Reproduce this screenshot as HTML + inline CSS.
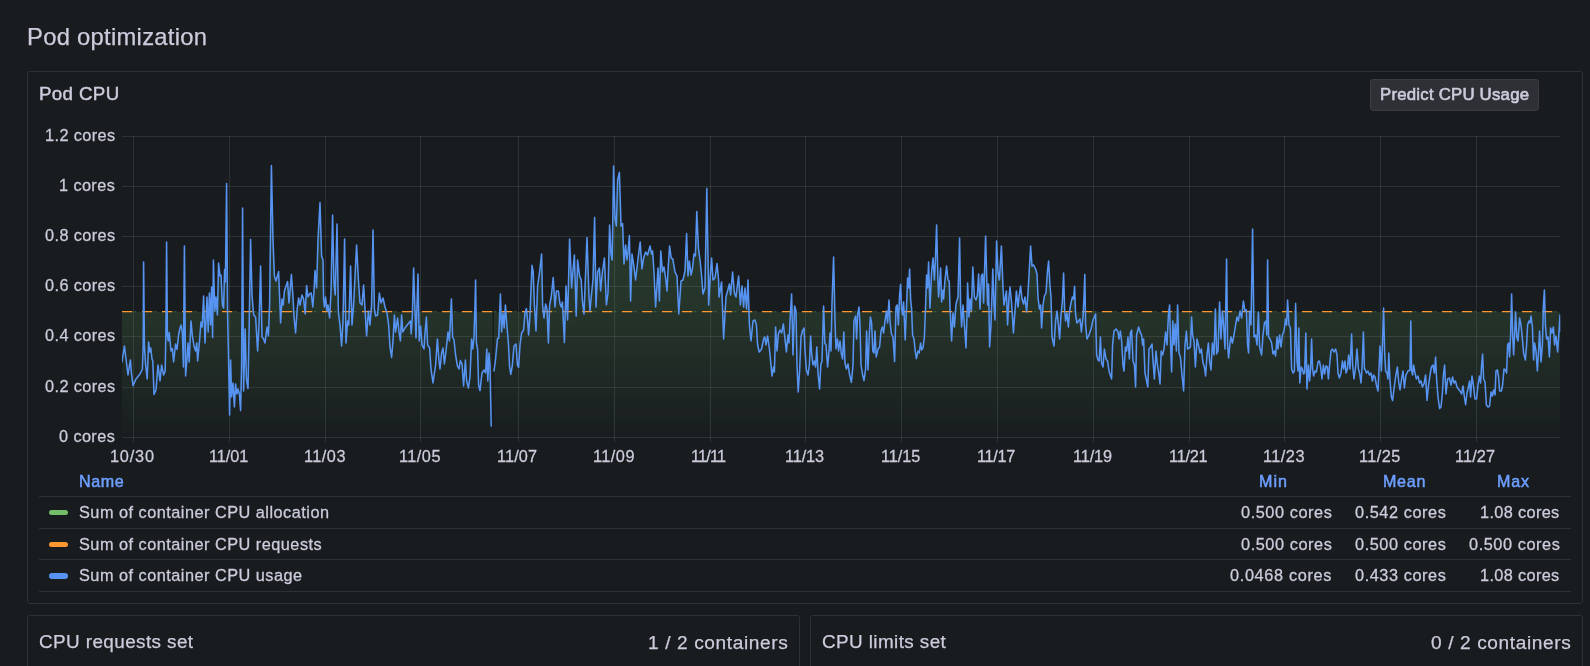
<!DOCTYPE html><html><head><meta charset="utf-8"><title>Pod optimization</title>
<style>
html,body{margin:0;padding:0;background:#181c1f;}
body{width:1590px;height:666px;position:relative;overflow:hidden;font-family:"Liberation Sans",sans-serif;color:#ccccdc;}
.t{position:absolute;white-space:nowrap;line-height:1;will-change:transform;}
.panel{position:absolute;box-sizing:border-box;border:1px solid #2e3136;border-radius:3px;background:#181c1f;}
.sep{position:absolute;height:1px;background:#2e3136;left:39px;width:1532px;}
.sw{position:absolute;left:49px;width:19px;height:5.5px;border-radius:3px;}
.ax{font-size:16.3px;letter-spacing:0.4px;-webkit-text-stroke:0.26px #ccccdc;}
.lg{font-size:16.3px;letter-spacing:0.44px;-webkit-text-stroke:0.28px #ccccdc;}
.hd{font-size:16.1px;letter-spacing:0.55px;color:#6e9fff;-webkit-text-stroke:0.5px #6e9fff;}

</style></head><body>
<div class="t" id="title" style="left:26.6px;top:24.95px;font-size:23.8px;letter-spacing:0.27px;-webkit-text-stroke:0.25px #ccccdc;">Pod optimization</div>
<div class="panel" style="left:27px;top:71px;width:1556px;height:533px;"></div>
<div class="t" id="ptitle" style="left:38.6px;top:84.57px;font-size:18.7px;letter-spacing:0.38px;-webkit-text-stroke:0.45px #ccccdc;">Pod CPU</div>
<div style="position:absolute;left:1370px;top:79.2px;width:169px;height:31.6px;background:#2e3036;border-radius:3px;box-sizing:border-box;border:1px solid #3a3c43;"></div>
<div class="t" id="btn" style="left:1380px;top:86.88px;font-size:16.8px;letter-spacing:0.22px;-webkit-text-stroke:0.6px #ccccdc;">Predict CPU Usage</div>
<div class="t ax yl" style="right:1474.7px;top:428.0px;">0 cores</div>
<div class="t ax yl" style="right:1474.7px;top:378.0px;">0.2 cores</div>
<div class="t ax yl" style="right:1474.7px;top:327.0px;">0.4 cores</div>
<div class="t ax yl" style="right:1474.7px;top:277.0px;">0.6 cores</div>
<div class="t ax yl" style="right:1474.7px;top:226.9px;">0.8 cores</div>
<div class="t ax yl" style="right:1474.7px;top:176.9px;">1 cores</div>
<div class="t ax yl" style="right:1474.7px;top:126.9px;">1.2 cores</div>
<div class="t ax xl" style="left:109.95px;top:448.0px;letter-spacing:0.81px;">10/30</div>
<div class="t ax xl" style="left:208.70px;top:448.0px;letter-spacing:-0.07px;">11/01</div>
<div class="t ax xl" style="left:303.60px;top:448.0px;letter-spacing:0.48px;">11/03</div>
<div class="t ax xl" style="left:398.60px;top:448.0px;letter-spacing:0.48px;">11/05</div>
<div class="t ax xl" style="left:497.30px;top:448.0px;letter-spacing:0.13px;">11/07</div>
<div class="t ax xl" style="left:592.60px;top:448.0px;letter-spacing:0.48px;">11/09</div>
<div class="t ax xl" style="left:691.20px;top:448.0px;letter-spacing:-0.82px;">11/11</div>
<div class="t ax xl" style="left:784.80px;top:448.0px;letter-spacing:-0.12px;">11/13</div>
<div class="t ax xl" style="left:880.70px;top:448.0px;letter-spacing:-0.07px;">11/15</div>
<div class="t ax xl" style="left:977.20px;top:448.0px;letter-spacing:-0.32px;">11/17</div>
<div class="t ax xl" style="left:1072.80px;top:448.0px;letter-spacing:-0.12px;">11/19</div>
<div class="t ax xl" style="left:1169.00px;top:448.0px;letter-spacing:-0.22px;">11/21</div>
<div class="t ax xl" style="left:1262.60px;top:448.0px;letter-spacing:0.48px;">11/23</div>
<div class="t ax xl" style="left:1358.70px;top:448.0px;letter-spacing:0.43px;">11/25</div>
<div class="t ax xl" style="left:1455.30px;top:448.0px;letter-spacing:0.13px;">11/27</div>
<svg style="position:absolute;left:0;top:0;" width="1590" height="666" viewBox="0 0 1590 666">
<defs><linearGradient id="gf" gradientUnits="userSpaceOnUse" x1="0" y1="166.4" x2="0" y2="437.2"><stop offset="0" stop-color="#73bf69" stop-opacity="0.20"/><stop offset="0.54" stop-color="#73bf69" stop-opacity="0.15"/><stop offset="1" stop-color="#73bf69" stop-opacity="0.01"/></linearGradient>
<clipPath id="cp"><rect x="122.0" y="130" width="1438.3" height="307.7"/></clipPath></defs>
<rect x="122.0" y="437" width="1438.3" height="1" fill="rgba(240,250,255,0.10)"/>
<rect x="122.0" y="387" width="1438.3" height="1" fill="rgba(240,250,255,0.10)"/>
<rect x="122.0" y="336" width="1438.3" height="1" fill="rgba(240,250,255,0.10)"/>
<rect x="122.0" y="286" width="1438.3" height="1" fill="rgba(240,250,255,0.10)"/>
<rect x="122.0" y="236" width="1438.3" height="1" fill="rgba(240,250,255,0.10)"/>
<rect x="122.0" y="186" width="1438.3" height="1" fill="rgba(240,250,255,0.10)"/>
<rect x="122.0" y="136" width="1438.3" height="1" fill="rgba(240,250,255,0.10)"/>
<rect x="133" y="136" width="1" height="306.4" fill="rgba(240,250,255,0.10)"/>
<rect x="229" y="136" width="1" height="306.4" fill="rgba(240,250,255,0.10)"/>
<rect x="325" y="136" width="1" height="306.4" fill="rgba(240,250,255,0.10)"/>
<rect x="420" y="136" width="1" height="306.4" fill="rgba(240,250,255,0.10)"/>
<rect x="518" y="136" width="1" height="306.4" fill="rgba(240,250,255,0.10)"/>
<rect x="614" y="136" width="1" height="306.4" fill="rgba(240,250,255,0.10)"/>
<rect x="710" y="136" width="1" height="306.4" fill="rgba(240,250,255,0.10)"/>
<rect x="805" y="136" width="1" height="306.4" fill="rgba(240,250,255,0.10)"/>
<rect x="901" y="136" width="1" height="306.4" fill="rgba(240,250,255,0.10)"/>
<rect x="997" y="136" width="1" height="306.4" fill="rgba(240,250,255,0.10)"/>
<rect x="1093" y="136" width="1" height="306.4" fill="rgba(240,250,255,0.10)"/>
<rect x="1189" y="136" width="1" height="306.4" fill="rgba(240,250,255,0.10)"/>
<rect x="1284" y="136" width="1" height="306.4" fill="rgba(240,250,255,0.10)"/>
<rect x="1380" y="136" width="1" height="306.4" fill="rgba(240,250,255,0.10)"/>
<rect x="1476" y="136" width="1" height="306.4" fill="rgba(240,250,255,0.10)"/>
<path d="M122.0 311.8 L124.4 311.8 L126.0 311.8 L128.0 311.8 L129.2 311.8 L130.4 311.8 L131.4 311.8 L133.0 311.8 L136.0 311.8 L140.0 311.8 L142.4 311.8 L143.2 311.8 L143.6 262.0 L144.4 311.8 L145.6 311.8 L147.2 311.8 L148.6 311.8 L149.8 311.8 L150.8 311.8 L152.0 311.8 L152.8 311.8 L154.0 311.8 L156.0 311.8 L158.0 311.8 L160.0 311.8 L161.6 311.8 L163.6 311.8 L165.2 311.8 L166.0 311.8 L166.6 242.0 L167.4 311.8 L168.2 311.8 L169.2 311.8 L171.0 311.8 L172.4 311.8 L173.6 311.8 L175.6 311.8 L177.0 311.8 L178.6 311.8 L180.0 311.8 L181.2 311.8 L182.4 311.8 L183.4 311.8 L184.4 246.0 L185.6 311.8 L186.8 311.8 L188.0 311.8 L189.2 311.8 L191.0 311.8 L192.4 311.8 L194.0 311.8 L195.6 311.8 L196.8 311.8 L197.6 311.8 L199.2 311.8 L201.0 311.8 L202.2 311.8 L203.6 296.0 L205.0 311.8 L207.0 297.0 L208.2 311.8 L209.4 293.0 L210.6 311.8 L211.6 287.0 L212.6 311.8 L213.4 260.0 L214.8 311.0 L216.0 297.0 L217.4 311.8 L218.6 263.0 L220.0 276.0 L221.0 275.0 L222.4 305.0 L223.6 308.0 L224.6 269.6 L225.4 282.0 L226.6 183.6 L227.6 311.8 L228.6 311.8 L229.6 311.8 L230.6 311.8 L231.6 311.8 L233.0 311.8 L234.4 311.8 L235.6 311.8 L236.8 311.8 L238.0 311.8 L239.4 311.8 L240.6 311.8 L241.6 311.8 L242.6 208.0 L243.6 311.8 L245.2 311.8 L246.4 311.8 L248.0 311.8 L249.2 311.8 L250.6 239.4 L252.0 295.0 L253.6 311.8 L255.6 311.8 L257.6 311.8 L259.0 311.8 L260.6 266.0 L262.0 311.8 L263.6 311.8 L265.0 311.8 L267.0 311.8 L268.4 311.8 L269.6 305.0 L271.4 165.6 L273.0 240.0 L274.4 276.0 L276.0 281.0 L278.6 271.6 L279.6 297.0 L280.6 311.8 L282.0 299.0 L283.2 305.0 L284.4 291.0 L287.6 281.6 L289.0 303.0 L291.4 274.4 L293.0 297.0 L294.0 311.8 L295.6 311.8 L297.2 309.0 L298.6 298.0 L300.0 305.0 L302.0 295.0 L303.6 299.0 L305.2 311.8 L306.6 285.6 L308.0 297.0 L309.6 294.0 L311.2 293.0 L312.8 307.0 L314.0 291.0 L315.0 270.6 L316.6 288.0 L318.0 240.0 L320.0 202.6 L321.6 256.0 L323.0 260.0 L323.6 299.0 L324.4 307.0 L325.6 297.0 L327.0 311.0 L328.0 305.0 L329.6 311.8 L331.0 293.0 L332.6 215.0 L334.0 284.0 L335.2 295.0 L337.0 224.0 L338.4 311.8 L340.0 311.8 L341.6 311.8 L343.0 311.8 L344.6 239.0 L346.0 311.8 L347.6 311.8 L348.8 311.8 L350.6 266.0 L352.0 311.8 L353.6 305.0 L356.6 245.0 L358.4 280.0 L360.0 303.0 L362.0 305.0 L363.6 285.0 L365.0 309.0 L366.6 311.8 L368.4 311.0 L370.0 311.8 L371.6 305.0 L373.0 230.0 L374.4 309.0 L375.6 311.8 L377.6 311.8 L379.4 293.0 L381.0 303.0 L383.0 298.0 L385.0 307.0 L387.0 311.8 L388.6 311.8 L390.0 311.8 L391.6 311.8 L393.0 311.8 L394.4 311.8 L395.6 311.8 L397.6 311.8 L399.0 311.8 L400.4 311.8 L401.6 311.8 L402.8 311.8 L405.0 311.8 L408.0 311.8 L410.4 311.8 L411.2 311.8 L412.4 311.8 L413.6 268.0 L414.8 305.0 L416.0 311.8 L418.0 274.0 L419.2 311.8 L420.6 311.8 L422.0 311.8 L424.0 311.8 L425.0 311.8 L426.4 311.8 L427.6 311.8 L429.6 311.8 L431.0 311.8 L433.0 311.8 L435.6 311.8 L437.4 311.8 L439.0 311.8 L440.0 311.8 L441.6 311.8 L443.0 311.8 L444.4 311.8 L446.0 311.8 L448.0 311.8 L449.4 311.8 L451.4 299.0 L452.6 311.8 L454.0 311.8 L455.6 311.8 L457.4 311.8 L459.0 311.8 L460.4 311.8 L462.0 311.8 L463.6 311.8 L465.4 311.8 L466.6 311.8 L468.4 311.8 L470.0 311.8 L471.6 311.8 L472.8 311.8 L474.0 311.8 L475.0 305.0 L475.6 280.0 L476.4 311.8 L477.6 311.8 L478.6 311.8 L480.0 311.8 L482.0 311.8 L484.0 311.8 L485.6 311.8 L486.8 311.8 L487.8 311.8 L489.0 311.8 L490.0 311.8 L491.2 311.8 L492.5 311.8 L492.5 437.2 L122.0 437.2 Z" fill="url(#gf)" clip-path="url(#cp)"/>
<path d="M494.0 311.8 L495.6 311.8 L497.4 311.8 L498.8 311.8 L500.4 294.0 L501.6 311.8 L503.0 311.8 L504.2 311.8 L505.4 305.0 L507.0 311.8 L508.4 311.8 L509.6 311.8 L510.8 311.8 L512.4 311.8 L514.0 311.8 L516.0 311.8 L517.4 311.8 L518.6 311.8 L520.0 311.8 L521.6 311.8 L523.6 311.8 L525.0 311.8 L526.4 308.6 L527.6 311.8 L528.6 311.8 L530.0 311.8 L532.0 265.4 L533.2 272.0 L534.4 305.0 L536.0 311.8 L537.6 286.0 L539.6 272.0 L541.6 254.0 L542.6 305.0 L544.0 311.8 L545.6 304.0 L547.0 309.0 L548.4 311.8 L549.6 305.0 L551.2 297.0 L553.2 277.6 L555.0 307.0 L556.4 291.0 L558.4 291.0 L560.0 304.0 L561.2 307.0 L562.4 302.0 L564.4 311.8 L566.0 286.0 L567.6 311.8 L569.6 239.0 L571.6 288.0 L572.8 272.0 L574.4 255.0 L576.2 311.8 L577.6 260.0 L579.6 276.0 L581.2 280.0 L582.4 301.0 L584.0 311.8 L587.0 237.6 L589.0 297.0 L590.0 311.0 L591.2 297.0 L593.0 280.0 L594.6 217.4 L596.0 307.0 L597.6 272.0 L599.4 268.0 L600.6 291.0 L602.4 272.0 L604.4 258.0 L606.4 305.0 L608.0 293.0 L609.6 225.0 L611.0 254.0 L612.2 260.0 L613.6 166.0 L615.0 218.0 L616.4 226.0 L617.6 180.0 L619.4 172.4 L621.0 226.0 L622.6 223.6 L624.0 264.0 L625.6 245.0 L627.0 260.0 L628.0 252.0 L629.4 235.6 L630.6 301.0 L632.0 254.0 L633.6 264.0 L635.6 280.0 L637.0 268.0 L638.6 254.0 L640.2 242.0 L642.0 269.0 L643.6 258.0 L645.6 252.0 L647.6 255.0 L650.0 246.0 L651.6 254.0 L652.6 251.0 L654.0 272.0 L655.6 307.0 L658.0 268.0 L659.4 301.0 L660.8 251.0 L662.4 272.0 L664.0 267.0 L665.6 278.0 L667.0 291.0 L668.4 264.0 L669.6 246.0 L671.2 258.0 L672.8 259.0 L675.0 272.0 L677.0 276.0 L678.8 311.8 L681.0 281.0 L683.0 280.0 L685.0 271.0 L686.6 233.6 L688.0 276.0 L689.4 261.0 L691.0 275.0 L692.4 269.0 L694.0 254.0 L695.4 256.0 L696.8 211.6 L698.4 248.0 L700.0 260.0 L701.6 276.0 L703.0 294.0 L705.0 288.0 L706.8 188.4 L708.4 280.0 L708.6 305.0 L710.4 274.0 L711.6 258.0 L713.0 280.0 L715.0 278.0 L717.0 263.6 L718.6 280.0 L719.0 297.0 L721.6 282.0 L723.6 311.8 L726.0 297.0 L729.4 284.0 L730.6 295.0 L732.6 272.0 L734.4 293.0 L736.0 297.0 L738.6 276.0 L740.4 305.0 L742.0 286.0 L743.6 307.0 L745.0 288.0 L746.6 309.0 L748.0 280.0 L749.4 311.8 L751.0 311.8 L753.0 311.8 L755.0 311.8 L756.4 311.8 L757.6 311.8 L759.2 311.8 L761.6 311.8 L763.6 311.8 L764.8 311.8 L766.0 311.8 L767.6 311.8 L769.2 311.8 L770.4 311.8 L772.0 311.8 L773.6 311.8 L774.4 311.8 L775.6 311.8 L777.0 311.8 L778.4 311.8 L780.0 311.8 L781.6 311.8 L783.4 311.8 L785.0 311.8 L786.4 311.8 L788.0 311.8 L789.0 311.8 L790.0 311.8 L791.6 294.0 L793.0 311.8 L794.6 306.0 L796.0 311.0 L797.0 311.8 L798.2 311.8 L799.6 311.8 L801.0 311.8 L802.4 311.8 L804.0 311.8 L805.0 311.8 L806.4 311.8 L808.0 311.8 L809.4 311.8 L810.6 311.8 L811.6 311.8 L813.0 311.8 L814.4 311.8 L815.6 311.8 L816.8 311.8 L818.0 311.8 L819.6 311.8 L820.8 311.8 L822.0 311.8 L823.6 306.0 L824.8 311.8 L826.0 311.8 L827.6 311.8 L829.0 311.8 L830.0 311.8 L831.0 311.8 L832.0 303.0 L833.6 257.0 L835.0 311.8 L836.0 311.8 L837.4 311.8 L838.6 311.8 L840.0 311.8 L841.4 311.8 L842.6 311.8 L843.8 311.8 L845.0 311.8 L846.4 311.8 L848.0 311.8 L849.6 311.8 L851.4 311.8 L853.0 311.8 L854.0 311.8 L855.6 311.8 L856.6 311.8 L857.6 311.8 L859.0 307.0 L860.0 311.8 L861.0 311.8 L862.6 311.8 L864.0 311.8 L865.6 311.8 L866.6 311.8 L868.0 311.8 L869.4 311.8 L870.4 311.8 L871.6 311.8 L872.8 311.8 L874.0 311.8 L875.0 311.8 L876.2 311.8 L878.0 311.8 L879.6 311.8 L881.0 311.8 L882.4 311.8 L883.6 311.8 L885.0 311.8 L886.4 311.0 L887.6 311.8 L889.0 300.0 L890.0 311.8 L891.4 311.8 L893.0 311.8 L894.6 311.8 L896.0 307.0 L897.2 305.0 L898.4 311.8 L899.6 295.0 L900.6 284.4 L901.6 309.0 L902.6 311.8 L903.6 302.0 L905.2 311.8 L906.6 305.0 L907.6 278.0 L908.6 288.0 L909.6 269.0 L910.6 299.0 L911.6 309.0 L912.6 311.8 L914.0 311.8 L915.2 311.8 L916.4 311.8 L918.0 311.8 L919.2 311.8 L920.6 311.8 L921.6 311.8 L923.0 311.8 L924.4 311.8 L925.6 305.0 L926.6 275.0 L927.6 288.0 L928.6 262.0 L930.0 308.0 L931.6 272.0 L933.0 258.0 L934.4 280.0 L935.4 260.0 L936.6 225.0 L938.0 282.0 L938.6 297.0 L940.6 268.0 L941.6 302.0 L943.0 290.0 L943.6 299.0 L945.0 280.0 L946.6 266.0 L948.0 280.0 L949.2 281.0 L950.0 307.0 L951.6 311.8 L953.0 311.8 L954.4 311.8 L956.0 304.0 L958.0 297.0 L959.6 238.0 L960.6 305.0 L961.6 311.8 L963.0 305.0 L964.4 311.8 L966.0 311.8 L967.0 311.8 L967.6 283.0 L969.0 311.8 L970.0 299.0 L971.4 311.0 L972.8 267.0 L974.4 297.0 L976.0 300.0 L977.4 295.0 L978.6 274.0 L980.0 309.0 L981.4 276.0 L982.6 274.0 L983.6 303.0 L985.6 236.0 L987.0 288.0 L987.6 305.0 L988.6 284.0 L989.6 311.8 L991.0 311.8 L992.8 269.0 L994.0 305.0 L995.0 311.8 L996.6 241.0 L998.0 272.0 L999.4 280.0 L1001.4 246.0 L1003.0 288.0 L1004.0 305.0 L1005.4 297.0 L1006.4 291.0 L1007.6 311.8 L1009.0 297.0 L1010.0 287.0 L1011.6 303.0 L1013.4 311.8 L1015.0 311.0 L1016.4 291.0 L1018.0 307.0 L1019.0 297.0 L1020.6 286.0 L1022.0 299.0 L1023.6 304.0 L1025.0 297.0 L1026.6 311.8 L1028.0 293.0 L1029.4 268.0 L1030.6 246.0 L1032.0 266.0 L1033.6 265.0 L1035.6 269.0 L1037.0 274.0 L1038.0 297.0 L1039.4 309.0 L1040.6 305.0 L1041.6 311.8 L1043.0 305.0 L1044.4 296.0 L1046.0 293.0 L1047.4 272.0 L1048.6 261.0 L1050.0 286.0 L1051.0 297.0 L1052.0 311.8 L1054.0 311.8 L1055.6 311.8 L1057.0 311.0 L1058.4 311.8 L1059.6 311.8 L1061.0 311.8 L1062.4 301.0 L1063.6 273.0 L1064.6 309.0 L1065.6 311.8 L1067.0 311.8 L1068.4 311.8 L1069.6 311.0 L1071.0 303.0 L1072.4 297.0 L1073.6 299.0 L1074.6 286.4 L1075.6 311.8 L1077.0 311.8 L1078.6 311.8 L1080.0 311.8 L1081.4 311.8 L1083.0 311.8 L1084.0 297.0 L1084.8 274.4 L1085.6 311.8 L1087.0 311.8 L1089.0 311.8 L1091.0 311.8 L1093.0 311.8 L1094.4 311.8 L1095.6 311.8 L1096.6 311.8 L1098.0 311.8 L1099.2 311.8 L1100.4 311.8 L1101.6 311.8 L1103.0 311.8 L1104.4 311.8 L1106.0 311.8 L1107.6 311.8 L1109.0 311.8 L1110.6 311.8 L1111.6 311.8 L1112.6 311.8 L1114.0 311.8 L1116.0 311.8 L1118.0 311.8 L1119.0 311.8 L1120.4 311.8 L1121.6 311.8 L1123.0 311.8 L1124.0 311.8 L1125.4 311.8 L1126.6 311.8 L1128.0 311.8 L1129.4 311.8 L1130.4 311.8 L1131.6 311.8 L1133.0 311.8 L1134.4 311.8 L1135.6 311.8 L1136.6 311.8 L1138.6 311.8 L1140.4 311.8 L1141.6 311.8 L1142.6 311.8 L1143.6 311.8 L1145.0 311.8 L1146.6 311.8 L1147.8 311.8 L1149.0 311.8 L1150.6 311.8 L1152.0 311.8 L1153.0 311.8 L1154.4 311.8 L1156.0 311.8 L1157.4 311.8 L1159.0 311.8 L1160.0 311.8 L1161.2 311.8 L1162.6 311.8 L1164.0 311.8 L1165.6 311.8 L1167.0 311.8 L1168.4 311.8 L1169.6 305.0 L1170.6 311.8 L1171.6 311.8 L1172.8 311.8 L1174.0 311.8 L1175.2 311.8 L1176.4 311.8 L1177.6 305.0 L1179.0 311.8 L1180.4 311.8 L1182.0 311.8 L1183.6 311.8 L1185.0 311.8 L1186.4 311.8 L1187.6 311.8 L1189.0 311.8 L1190.4 311.8 L1191.6 311.8 L1192.6 311.8 L1194.0 311.8 L1195.4 311.8 L1197.0 311.8 L1198.4 311.8 L1200.0 311.8 L1201.4 311.8 L1203.0 311.8 L1204.4 311.8 L1205.6 311.8 L1207.0 311.8 L1208.4 311.8 L1209.6 311.8 L1211.0 311.8 L1212.4 311.8 L1214.0 311.8 L1215.4 309.0 L1216.6 311.8 L1218.0 311.8 L1219.6 302.0 L1221.0 311.8 L1222.4 311.0 L1223.6 311.8 L1225.0 311.8 L1226.6 259.0 L1227.6 311.8 L1228.6 311.8 L1230.0 311.8 L1231.0 311.8 L1232.4 311.8 L1234.0 311.8 L1235.6 311.8 L1237.0 311.8 L1238.4 311.8 L1240.0 311.0 L1241.6 311.8 L1243.4 301.0 L1245.0 311.0 L1246.4 310.0 L1247.6 311.8 L1248.6 311.8 L1249.6 311.0 L1251.0 311.8 L1252.6 229.0 L1254.0 311.8 L1255.6 311.8 L1257.0 311.8 L1258.4 311.8 L1259.6 311.8 L1261.6 311.8 L1263.0 311.8 L1264.4 311.8 L1266.0 311.8 L1266.8 311.8 L1267.6 260.0 L1268.6 311.8 L1270.0 311.8 L1271.6 311.8 L1273.0 311.8 L1274.4 311.8 L1275.6 311.8 L1277.0 311.8 L1278.0 311.8 L1279.6 311.8 L1281.0 311.8 L1282.4 311.8 L1284.0 311.8 L1285.6 311.8 L1286.6 311.8 L1287.6 300.0 L1289.0 311.8 L1290.4 311.8 L1291.6 311.8 L1293.0 311.8 L1294.4 311.8 L1295.6 303.4 L1297.0 311.8 L1298.0 311.8 L1298.8 311.8 L1299.8 311.8 L1301.2 311.8 L1302.4 311.8 L1303.6 311.8 L1304.6 311.8 L1305.8 311.8 L1307.0 311.8 L1308.4 311.8 L1309.6 311.8 L1310.6 311.8 L1311.6 311.8 L1312.6 311.8 L1313.6 311.8 L1315.0 311.8 L1316.4 311.8 L1318.0 311.8 L1319.4 311.8 L1320.6 311.8 L1322.0 311.8 L1323.4 311.8 L1324.6 311.8 L1326.0 311.8 L1327.4 311.8 L1328.4 311.8 L1329.6 311.8 L1331.0 311.8 L1332.4 311.8 L1334.0 311.8 L1335.6 311.8 L1337.0 311.8 L1338.0 311.8 L1339.4 311.8 L1341.0 311.8 L1342.4 311.8 L1343.6 311.8 L1345.0 311.8 L1346.0 311.8 L1347.4 311.8 L1348.6 311.8 L1350.0 311.8 L1351.6 311.8 L1352.6 311.8 L1354.0 311.8 L1355.6 311.8 L1357.0 311.8 L1358.4 311.8 L1359.6 311.8 L1361.0 311.8 L1362.0 311.8 L1363.4 311.8 L1364.4 311.8 L1365.0 311.8 L1366.4 311.8 L1368.0 311.8 L1369.4 311.8 L1371.0 311.8 L1372.4 311.8 L1373.6 311.8 L1375.0 311.8 L1376.4 311.8 L1378.0 311.8 L1379.2 311.8 L1380.0 311.8 L1381.4 311.8 L1382.4 311.8 L1383.6 308.0 L1384.6 311.8 L1385.6 311.8 L1387.0 311.8 L1388.0 311.8 L1388.8 311.8 L1390.0 311.8 L1391.4 311.8 L1392.6 311.8 L1394.0 311.8 L1395.6 311.8 L1397.4 311.8 L1398.6 311.8 L1400.0 311.8 L1401.6 311.8 L1403.0 311.8 L1404.4 311.8 L1406.0 311.8 L1408.0 311.8 L1410.0 311.8 L1410.8 311.8 L1411.6 311.8 L1412.6 311.8 L1413.6 311.8 L1415.0 311.8 L1416.4 311.8 L1418.0 311.8 L1419.6 311.8 L1421.0 311.8 L1422.4 311.8 L1424.0 311.8 L1425.6 311.8 L1427.0 311.8 L1428.6 311.8 L1430.0 311.8 L1431.4 311.8 L1433.0 311.8 L1434.4 311.8 L1435.6 311.8 L1436.6 311.8 L1438.0 311.8 L1439.6 311.8 L1441.0 311.8 L1442.4 311.8 L1443.4 311.8 L1444.6 311.8 L1446.0 311.8 L1447.6 311.8 L1449.4 311.8 L1451.0 311.8 L1452.6 311.8 L1454.0 311.8 L1455.4 311.8 L1457.0 311.8 L1458.4 311.8 L1460.0 311.8 L1461.6 311.8 L1463.0 311.8 L1464.4 311.8 L1465.6 311.8 L1467.0 311.8 L1468.4 311.8 L1469.6 311.8 L1470.6 311.8 L1472.0 311.8 L1473.4 311.8 L1475.0 311.8 L1476.6 311.8 L1478.0 311.8 L1479.4 311.8 L1480.6 311.8 L1481.6 311.8 L1482.6 311.8 L1483.6 311.8 L1485.0 311.8 L1486.4 311.8 L1488.0 311.8 L1489.6 311.8 L1491.0 311.8 L1492.4 311.8 L1493.6 311.8 L1495.0 311.8 L1496.0 311.8 L1497.4 311.8 L1498.6 311.8 L1499.6 311.8 L1501.4 311.8 L1502.6 311.8 L1504.0 311.8 L1505.4 311.8 L1506.6 311.8 L1507.6 311.8 L1508.6 311.8 L1509.6 311.8 L1510.6 311.8 L1511.6 294.0 L1512.6 311.8 L1513.6 311.8 L1514.6 311.8 L1515.6 311.8 L1516.8 311.8 L1518.0 311.8 L1519.6 311.8 L1521.0 311.8 L1522.4 311.8 L1523.6 311.8 L1525.4 311.8 L1526.6 311.8 L1527.6 311.8 L1529.0 311.8 L1530.0 311.8 L1531.0 311.8 L1532.4 311.8 L1533.6 311.8 L1534.6 311.8 L1536.0 311.8 L1537.4 311.8 L1538.6 311.8 L1539.6 311.8 L1541.0 311.8 L1542.4 311.8 L1543.4 305.0 L1544.4 290.0 L1545.4 311.8 L1546.6 311.8 L1548.0 311.8 L1549.4 311.8 L1550.6 311.8 L1552.0 311.8 L1553.4 311.8 L1554.6 311.8 L1556.0 311.8 L1557.6 311.8 L1558.8 311.8 L1560.0 311.8 L1560.4 311.8 L1560.4 437.2 L494.0 437.2 Z" fill="url(#gf)" clip-path="url(#cp)"/>
<line x1="122.0" y1="311.7" x2="1560.3" y2="311.7" stroke="#73bf69" stroke-width="1.3" stroke-opacity="0.32" stroke-dasharray="2.3 17.7" stroke-dashoffset="-12"/>
<line x1="122.0" y1="311.6" x2="1560.3" y2="311.6" stroke="#ff9830" stroke-width="1.4" stroke-dasharray="10.3 9.7"/>
<path d="M122.0 362.0 L124.4 346.0 L126.0 359.0 L128.0 375.0 L129.2 367.0 L130.4 360.0 L131.4 373.0 L133.0 385.6 L136.0 379.0 L140.0 374.0 L142.4 369.0 L143.2 345.0 L143.6 262.0 L144.4 345.0 L145.6 365.0 L147.2 379.0 L148.6 342.0 L149.8 352.0 L150.8 348.0 L152.0 359.0 L152.8 361.0 L154.0 394.4 L156.0 390.0 L158.0 365.0 L160.0 381.0 L161.6 365.0 L163.6 375.0 L165.2 371.0 L166.0 325.0 L166.6 242.0 L167.4 335.0 L168.2 341.0 L169.2 332.6 L171.0 351.0 L172.4 348.6 L173.6 362.0 L175.6 344.0 L177.0 349.4 L178.6 335.0 L180.0 328.0 L181.2 325.0 L182.4 334.0 L183.4 367.0 L184.4 246.0 L185.6 376.0 L186.8 361.0 L188.0 343.0 L189.2 362.0 L191.0 321.0 L192.4 336.0 L194.0 346.0 L195.6 351.0 L196.8 343.0 L197.6 361.0 L199.2 345.0 L201.0 322.0 L202.2 327.0 L203.6 296.0 L205.0 343.0 L207.0 297.0 L208.2 332.0 L209.4 293.0 L210.6 325.0 L211.6 287.0 L212.6 337.4 L213.4 260.0 L214.8 311.0 L216.0 297.0 L217.4 315.0 L218.6 263.0 L220.0 276.0 L221.0 275.0 L222.4 305.0 L223.6 308.0 L224.6 269.6 L225.4 282.0 L226.6 183.6 L227.6 315.0 L228.6 361.0 L229.6 415.0 L230.6 360.0 L231.6 397.0 L233.0 383.0 L234.4 407.0 L235.6 384.0 L236.8 394.0 L238.0 389.0 L239.4 394.0 L240.6 410.6 L241.6 365.0 L242.6 208.0 L243.6 391.0 L245.2 329.0 L246.4 379.0 L248.0 388.6 L249.2 325.0 L250.6 239.4 L252.0 295.0 L253.6 315.0 L255.6 317.0 L257.6 351.0 L259.0 325.0 L260.6 266.0 L262.0 337.0 L263.6 339.0 L265.0 343.0 L267.0 327.0 L268.4 336.0 L269.6 305.0 L271.4 165.6 L273.0 240.0 L274.4 276.0 L276.0 281.0 L278.6 271.6 L279.6 297.0 L280.6 323.0 L282.0 299.0 L283.2 305.0 L284.4 291.0 L287.6 281.6 L289.0 303.0 L291.4 274.4 L293.0 297.0 L294.0 317.0 L295.6 333.0 L297.2 309.0 L298.6 298.0 L300.0 305.0 L302.0 295.0 L303.6 299.0 L305.2 314.0 L306.6 285.6 L308.0 297.0 L309.6 294.0 L311.2 293.0 L312.8 307.0 L314.0 291.0 L315.0 270.6 L316.6 288.0 L318.0 240.0 L320.0 202.6 L321.6 256.0 L323.0 260.0 L323.6 299.0 L324.4 307.0 L325.6 297.0 L327.0 311.0 L328.0 305.0 L329.6 318.0 L331.0 293.0 L332.6 215.0 L334.0 284.0 L335.2 295.0 L337.0 224.0 L338.4 313.0 L340.0 325.0 L341.6 346.0 L343.0 321.0 L344.6 239.0 L346.0 343.0 L347.6 321.0 L348.8 325.0 L350.6 266.0 L352.0 325.0 L353.6 305.0 L356.6 245.0 L358.4 280.0 L360.0 303.0 L362.0 305.0 L363.6 285.0 L365.0 309.0 L366.6 336.0 L368.4 311.0 L370.0 325.0 L371.6 305.0 L373.0 230.0 L374.4 309.0 L375.6 316.0 L377.6 315.0 L379.4 293.0 L381.0 303.0 L383.0 298.0 L385.0 307.0 L387.0 313.0 L388.6 325.0 L390.0 347.0 L391.6 357.4 L393.0 341.0 L394.4 315.0 L395.6 332.0 L397.6 318.0 L399.0 332.0 L400.4 341.0 L401.6 315.0 L402.8 332.0 L405.0 328.0 L408.0 324.0 L410.4 321.0 L411.2 334.0 L412.4 315.0 L413.6 268.0 L414.8 305.0 L416.0 338.0 L418.0 274.0 L419.2 341.0 L420.6 326.0 L422.0 345.0 L424.0 349.0 L425.0 333.0 L426.4 317.0 L427.6 345.0 L429.6 348.0 L431.0 369.0 L433.0 383.0 L435.6 365.0 L437.4 339.0 L439.0 361.0 L440.0 369.0 L441.6 353.0 L443.0 348.0 L444.4 364.0 L446.0 351.0 L448.0 332.0 L449.4 341.0 L451.4 299.0 L452.6 337.0 L454.0 340.0 L455.6 355.0 L457.4 366.0 L459.0 369.0 L460.4 360.6 L462.0 364.0 L463.6 386.0 L465.4 360.0 L466.6 381.0 L468.4 388.0 L470.0 377.0 L471.6 339.0 L472.8 349.0 L474.0 337.0 L475.0 305.0 L475.6 280.0 L476.4 343.0 L477.6 349.0 L478.6 385.0 L480.0 390.6 L482.0 373.0 L484.0 370.0 L485.6 373.0 L486.8 349.0 L487.8 381.0 L489.0 353.0 L490.0 365.0 L491.2 426.0 M494.0 371.0 L495.6 359.0 L497.4 339.0 L498.8 338.0 L500.4 294.0 L501.6 332.0 L503.0 313.0 L504.2 328.0 L505.4 305.0 L507.0 327.0 L508.4 343.0 L509.6 367.0 L510.8 374.4 L512.4 365.0 L514.0 346.0 L516.0 344.0 L517.4 365.0 L518.6 367.4 L520.0 345.0 L521.6 333.0 L523.6 330.0 L525.0 313.0 L526.4 308.6 L527.6 321.0 L528.6 335.0 L530.0 315.0 L532.0 265.4 L533.2 272.0 L534.4 305.0 L536.0 331.0 L537.6 286.0 L539.6 272.0 L541.6 254.0 L542.6 305.0 L544.0 318.0 L545.6 304.0 L547.0 309.0 L548.4 343.0 L549.6 305.0 L551.2 297.0 L553.2 277.6 L555.0 307.0 L556.4 291.0 L558.4 291.0 L560.0 304.0 L561.2 307.0 L562.4 302.0 L564.4 342.6 L566.0 286.0 L567.6 320.0 L569.6 239.0 L571.6 288.0 L572.8 272.0 L574.4 255.0 L576.2 316.0 L577.6 260.0 L579.6 276.0 L581.2 280.0 L582.4 301.0 L584.0 314.0 L587.0 237.6 L589.0 297.0 L590.0 311.0 L591.2 297.0 L593.0 280.0 L594.6 217.4 L596.0 307.0 L597.6 272.0 L599.4 268.0 L600.6 291.0 L602.4 272.0 L604.4 258.0 L606.4 305.0 L608.0 293.0 L609.6 225.0 L611.0 254.0 L612.2 260.0 L613.6 166.0 L615.0 218.0 L616.4 226.0 L617.6 180.0 L619.4 172.4 L621.0 226.0 L622.6 223.6 L624.0 264.0 L625.6 245.0 L627.0 260.0 L628.0 252.0 L629.4 235.6 L630.6 301.0 L632.0 254.0 L633.6 264.0 L635.6 280.0 L637.0 268.0 L638.6 254.0 L640.2 242.0 L642.0 269.0 L643.6 258.0 L645.6 252.0 L647.6 255.0 L650.0 246.0 L651.6 254.0 L652.6 251.0 L654.0 272.0 L655.6 307.0 L658.0 268.0 L659.4 301.0 L660.8 251.0 L662.4 272.0 L664.0 267.0 L665.6 278.0 L667.0 291.0 L668.4 264.0 L669.6 246.0 L671.2 258.0 L672.8 259.0 L675.0 272.0 L677.0 276.0 L678.8 314.0 L681.0 281.0 L683.0 280.0 L685.0 271.0 L686.6 233.6 L688.0 276.0 L689.4 261.0 L691.0 275.0 L692.4 269.0 L694.0 254.0 L695.4 256.0 L696.8 211.6 L698.4 248.0 L700.0 260.0 L701.6 276.0 L703.0 294.0 L705.0 288.0 L706.8 188.4 L708.4 280.0 L708.6 305.0 L710.4 274.0 L711.6 258.0 L713.0 280.0 L715.0 278.0 L717.0 263.6 L718.6 280.0 L719.0 297.0 L721.6 282.0 L723.6 339.0 L726.0 297.0 L729.4 284.0 L730.6 295.0 L732.6 272.0 L734.4 293.0 L736.0 297.0 L738.6 276.0 L740.4 305.0 L742.0 286.0 L743.6 307.0 L745.0 288.0 L746.6 309.0 L748.0 280.0 L749.4 325.0 L751.0 341.0 L753.0 321.0 L755.0 320.0 L756.4 325.0 L757.6 345.0 L759.2 352.0 L761.6 349.0 L763.6 339.0 L764.8 337.0 L766.0 345.0 L767.6 336.0 L769.2 347.0 L770.4 359.0 L772.0 376.0 L773.6 367.0 L774.4 372.0 L775.6 327.0 L777.0 351.0 L778.4 334.0 L780.0 330.0 L781.6 333.0 L783.4 324.0 L785.0 339.0 L786.4 352.0 L788.0 335.0 L789.0 343.0 L790.0 321.0 L791.6 294.0 L793.0 355.0 L794.6 306.0 L796.0 311.0 L797.0 365.0 L798.2 392.0 L799.6 371.0 L801.0 337.0 L802.4 331.0 L804.0 328.0 L805.0 351.0 L806.4 370.0 L808.0 375.0 L809.4 365.0 L810.6 336.0 L811.6 353.0 L813.0 365.0 L814.4 361.0 L815.6 367.0 L816.8 347.0 L818.0 373.0 L819.6 389.0 L820.8 365.0 L822.0 361.0 L823.6 306.0 L824.8 343.0 L826.0 345.0 L827.6 367.0 L829.0 351.0 L830.0 333.0 L831.0 351.0 L832.0 303.0 L833.6 257.0 L835.0 321.0 L836.0 349.0 L837.4 339.0 L838.6 351.0 L840.0 341.0 L841.4 354.0 L842.6 359.0 L843.8 332.0 L845.0 363.0 L846.4 369.0 L848.0 364.0 L849.6 375.0 L851.4 382.4 L853.0 365.0 L854.0 321.0 L855.6 316.0 L856.6 339.0 L857.6 315.0 L859.0 307.0 L860.0 325.0 L861.0 365.0 L862.6 375.0 L864.0 380.6 L865.6 369.0 L866.6 331.0 L868.0 370.0 L869.4 333.0 L870.4 317.0 L871.6 323.0 L872.8 351.0 L874.0 353.0 L875.0 331.0 L876.2 357.0 L878.0 349.0 L879.6 347.0 L881.0 331.0 L882.4 327.0 L883.6 333.0 L885.0 321.0 L886.4 311.0 L887.6 323.0 L889.0 300.0 L890.0 321.0 L891.4 334.0 L893.0 337.0 L894.6 361.6 L896.0 307.0 L897.2 305.0 L898.4 325.0 L899.6 295.0 L900.6 284.4 L901.6 309.0 L902.6 315.0 L903.6 302.0 L905.2 340.0 L906.6 305.0 L907.6 278.0 L908.6 288.0 L909.6 269.0 L910.6 299.0 L911.6 309.0 L912.6 335.0 L914.0 339.0 L915.2 351.0 L916.4 358.6 L918.0 351.0 L919.2 353.0 L920.6 343.0 L921.6 350.0 L923.0 348.0 L924.4 337.0 L925.6 305.0 L926.6 275.0 L927.6 288.0 L928.6 262.0 L930.0 308.0 L931.6 272.0 L933.0 258.0 L934.4 280.0 L935.4 260.0 L936.6 225.0 L938.0 282.0 L938.6 297.0 L940.6 268.0 L941.6 302.0 L943.0 290.0 L943.6 299.0 L945.0 280.0 L946.6 266.0 L948.0 280.0 L949.2 281.0 L950.0 307.0 L951.6 341.0 L953.0 313.0 L954.4 327.0 L956.0 304.0 L958.0 297.0 L959.6 238.0 L960.6 305.0 L961.6 327.0 L963.0 305.0 L964.4 325.0 L966.0 348.0 L967.0 315.0 L967.6 283.0 L969.0 317.0 L970.0 299.0 L971.4 311.0 L972.8 267.0 L974.4 297.0 L976.0 300.0 L977.4 295.0 L978.6 274.0 L980.0 309.0 L981.4 276.0 L982.6 274.0 L983.6 303.0 L985.6 236.0 L987.0 288.0 L987.6 305.0 L988.6 284.0 L989.6 347.0 L991.0 325.0 L992.8 269.0 L994.0 305.0 L995.0 320.0 L996.6 241.0 L998.0 272.0 L999.4 280.0 L1001.4 246.0 L1003.0 288.0 L1004.0 305.0 L1005.4 297.0 L1006.4 291.0 L1007.6 325.0 L1009.0 297.0 L1010.0 287.0 L1011.6 303.0 L1013.4 333.0 L1015.0 311.0 L1016.4 291.0 L1018.0 307.0 L1019.0 297.0 L1020.6 286.0 L1022.0 299.0 L1023.6 304.0 L1025.0 297.0 L1026.6 312.0 L1028.0 293.0 L1029.4 268.0 L1030.6 246.0 L1032.0 266.0 L1033.6 265.0 L1035.6 269.0 L1037.0 274.0 L1038.0 297.0 L1039.4 309.0 L1040.6 305.0 L1041.6 328.0 L1043.0 305.0 L1044.4 296.0 L1046.0 293.0 L1047.4 272.0 L1048.6 261.0 L1050.0 286.0 L1051.0 297.0 L1052.0 337.0 L1054.0 346.0 L1055.6 321.0 L1057.0 311.0 L1058.4 325.0 L1059.6 339.0 L1061.0 315.0 L1062.4 301.0 L1063.6 273.0 L1064.6 309.0 L1065.6 321.0 L1067.0 313.0 L1068.4 327.0 L1069.6 311.0 L1071.0 303.0 L1072.4 297.0 L1073.6 299.0 L1074.6 286.4 L1075.6 315.0 L1077.0 323.0 L1078.6 321.0 L1080.0 319.0 L1081.4 332.0 L1083.0 317.0 L1084.0 297.0 L1084.8 274.4 L1085.6 325.0 L1087.0 339.0 L1089.0 335.0 L1091.0 329.0 L1093.0 320.0 L1094.4 317.0 L1095.6 314.0 L1096.6 355.0 L1098.0 360.0 L1099.2 361.0 L1100.4 337.0 L1101.6 363.0 L1103.0 367.0 L1104.4 349.0 L1106.0 359.0 L1107.6 361.0 L1109.0 371.0 L1110.6 376.0 L1111.6 379.0 L1112.6 345.0 L1114.0 331.0 L1116.0 329.0 L1118.0 332.0 L1119.0 339.0 L1120.4 331.0 L1121.6 341.0 L1123.0 365.0 L1124.0 371.0 L1125.4 347.0 L1126.6 351.0 L1128.0 337.0 L1129.4 359.0 L1130.4 333.0 L1131.6 330.0 L1133.0 361.0 L1134.4 365.0 L1135.6 387.0 L1136.6 335.0 L1138.6 327.0 L1140.4 333.0 L1141.6 335.0 L1142.6 345.0 L1143.6 339.0 L1145.0 373.0 L1146.6 381.0 L1147.8 387.0 L1149.0 349.0 L1150.6 347.0 L1152.0 344.0 L1153.0 361.0 L1154.4 379.0 L1156.0 351.0 L1157.4 365.0 L1159.0 375.0 L1160.0 384.0 L1161.2 351.0 L1162.6 355.0 L1164.0 349.0 L1165.6 332.0 L1167.0 345.0 L1168.4 315.0 L1169.6 305.0 L1170.6 345.0 L1171.6 372.0 L1172.8 321.0 L1174.0 345.0 L1175.2 324.0 L1176.4 351.0 L1177.6 305.0 L1179.0 353.0 L1180.4 357.0 L1182.0 375.0 L1183.6 391.0 L1185.0 345.0 L1186.4 331.0 L1187.6 349.0 L1189.0 348.0 L1190.4 347.0 L1191.6 317.0 L1192.6 335.0 L1194.0 341.0 L1195.4 367.0 L1197.0 339.0 L1198.4 345.0 L1200.0 353.0 L1201.4 349.0 L1203.0 363.0 L1204.4 367.0 L1205.6 376.0 L1207.0 355.0 L1208.4 343.0 L1209.6 361.0 L1211.0 370.0 L1212.4 343.0 L1214.0 355.0 L1215.4 309.0 L1216.6 354.0 L1218.0 351.0 L1219.6 302.0 L1221.0 339.0 L1222.4 311.0 L1223.6 325.0 L1225.0 349.0 L1226.6 259.0 L1227.6 345.0 L1228.6 358.0 L1230.0 343.0 L1231.0 337.0 L1232.4 343.0 L1234.0 335.0 L1235.6 325.0 L1237.0 317.0 L1238.4 321.0 L1240.0 311.0 L1241.6 318.0 L1243.4 301.0 L1245.0 311.0 L1246.4 310.0 L1247.6 345.0 L1248.6 353.0 L1249.6 311.0 L1251.0 325.0 L1252.6 229.0 L1254.0 337.0 L1255.6 335.0 L1257.0 345.0 L1258.4 312.0 L1259.6 347.0 L1261.6 355.0 L1263.0 335.0 L1264.4 323.0 L1266.0 321.0 L1266.8 335.0 L1267.6 260.0 L1268.6 337.0 L1270.0 339.0 L1271.6 343.0 L1273.0 354.0 L1274.4 351.0 L1275.6 356.0 L1277.0 337.0 L1278.0 349.0 L1279.6 335.0 L1281.0 347.0 L1282.4 335.0 L1284.0 331.0 L1285.6 319.0 L1286.6 325.0 L1287.6 300.0 L1289.0 325.0 L1290.4 328.0 L1291.6 369.0 L1293.0 373.0 L1294.4 371.0 L1295.6 303.4 L1297.0 361.0 L1298.0 371.0 L1298.8 328.0 L1299.8 383.0 L1301.2 367.0 L1302.4 369.0 L1303.6 374.0 L1304.6 373.0 L1305.8 333.0 L1307.0 389.0 L1308.4 365.0 L1309.6 381.0 L1310.6 369.0 L1311.6 339.0 L1312.6 369.0 L1313.6 376.0 L1315.0 371.0 L1316.4 372.0 L1318.0 362.0 L1319.4 361.0 L1320.6 367.0 L1322.0 379.0 L1323.4 365.0 L1324.6 374.0 L1326.0 366.0 L1327.4 367.0 L1328.4 379.0 L1329.6 365.0 L1331.0 351.0 L1332.4 349.0 L1334.0 352.0 L1335.6 349.0 L1337.0 355.0 L1338.0 373.0 L1339.4 378.0 L1341.0 373.0 L1342.4 361.0 L1343.6 369.0 L1345.0 361.0 L1346.0 373.0 L1347.4 369.0 L1348.6 355.0 L1350.0 369.0 L1351.6 334.0 L1352.6 365.0 L1354.0 379.0 L1355.6 367.0 L1357.0 349.0 L1358.4 369.0 L1359.6 373.0 L1361.0 383.0 L1362.0 369.0 L1363.4 332.0 L1364.4 369.0 L1365.0 369.0 L1366.4 373.0 L1368.0 371.0 L1369.4 375.0 L1371.0 373.0 L1372.4 381.0 L1373.6 375.0 L1375.0 377.0 L1376.4 385.0 L1378.0 391.0 L1379.2 365.0 L1380.0 346.0 L1381.4 371.0 L1382.4 345.0 L1383.6 308.0 L1384.6 351.0 L1385.6 371.0 L1387.0 373.0 L1388.0 379.0 L1388.8 353.0 L1390.0 381.0 L1391.4 397.0 L1392.6 400.6 L1394.0 389.0 L1395.6 377.0 L1397.4 367.0 L1398.6 381.0 L1400.0 390.0 L1401.6 379.0 L1403.0 371.0 L1404.4 388.0 L1406.0 375.0 L1408.0 371.0 L1410.0 370.0 L1410.8 321.0 L1411.6 371.0 L1412.6 375.0 L1413.6 365.0 L1415.0 373.0 L1416.4 379.0 L1418.0 376.0 L1419.6 383.0 L1421.0 381.0 L1422.4 387.0 L1424.0 384.0 L1425.6 375.0 L1427.0 400.4 L1428.6 385.0 L1430.0 375.0 L1431.4 367.0 L1433.0 365.0 L1434.4 373.0 L1435.6 357.0 L1436.6 379.0 L1438.0 397.0 L1439.6 408.6 L1441.0 407.0 L1442.4 393.0 L1443.4 375.0 L1444.6 365.0 L1446.0 394.0 L1447.6 379.0 L1449.4 378.0 L1451.0 385.0 L1452.6 377.0 L1454.0 383.0 L1455.4 381.0 L1457.0 387.0 L1458.4 389.0 L1460.0 391.0 L1461.6 394.0 L1463.0 386.0 L1464.4 397.0 L1465.6 404.6 L1467.0 393.0 L1468.4 387.0 L1469.6 381.0 L1470.6 397.0 L1472.0 376.0 L1473.4 385.0 L1475.0 399.0 L1476.6 399.0 L1478.0 385.0 L1479.4 376.0 L1480.6 383.0 L1481.6 365.0 L1482.6 354.0 L1483.6 379.0 L1485.0 382.0 L1486.4 405.0 L1488.0 407.0 L1489.6 406.0 L1491.0 392.0 L1492.4 396.0 L1493.6 390.0 L1495.0 395.0 L1496.0 371.0 L1497.4 370.0 L1498.6 377.0 L1499.6 391.0 L1501.4 391.0 L1502.6 385.0 L1504.0 369.0 L1505.4 370.0 L1506.6 373.0 L1507.6 345.0 L1508.6 343.0 L1509.6 357.0 L1510.6 335.0 L1511.6 294.0 L1512.6 333.0 L1513.6 355.0 L1514.6 335.0 L1515.6 312.0 L1516.8 337.0 L1518.0 341.0 L1519.6 318.0 L1521.0 325.0 L1522.4 339.0 L1523.6 353.0 L1525.4 360.0 L1526.6 345.0 L1527.6 325.0 L1529.0 321.0 L1530.0 323.0 L1531.0 316.0 L1532.4 327.0 L1533.6 360.0 L1534.6 343.0 L1536.0 351.0 L1537.4 371.0 L1538.6 351.0 L1539.6 331.0 L1541.0 362.0 L1542.4 345.0 L1543.4 305.0 L1544.4 290.0 L1545.4 325.0 L1546.6 339.0 L1548.0 337.0 L1549.4 357.0 L1550.6 328.0 L1552.0 333.0 L1553.4 327.0 L1554.6 345.0 L1556.0 336.0 L1557.6 352.0 L1558.8 335.0 L1560.0 315.0 L1560.4 331.0" fill="none" stroke="#5794f2" stroke-width="1.55" stroke-linejoin="round" stroke-linecap="round" clip-path="url(#cp)"/>
</svg>
<div class="t hd" id="hname" style="left:78.5px;top:473.20px;">Name</div>
<div class="t hd" id="hmin" style="letter-spacing:1.0px;left:1259.0px;top:473.20px;">Min</div>
<div class="t hd" id="hmean" style="letter-spacing:0.7px;left:1383.0px;top:473.20px;">Mean</div>
<div class="t hd" id="hmax" style="letter-spacing:0.8px;left:1497.2px;top:473.20px;">Max</div>
<div class="sep" style="top:495.8px;"></div>
<div class="sep" style="top:527.5px;"></div>
<div class="sep" style="top:559.2px;"></div>
<div class="sep" style="top:590.8px;"></div>
<div class="sw" style="top:509.9px;background:#73bf69;"></div>
<div class="t lg ln" style="left:78.9px;top:503.95px;letter-spacing:0.49px;">Sum of container CPU allocation</div>
<div class="t lg lv" style="right:257.7px;top:504.0px;letter-spacing:0.58px;">0.500 cores</div>
<div class="t lg lv" style="right:143.4px;top:504.0px;letter-spacing:0.58px;">0.542 cores</div>
<div class="t lg lv" style="right:30.0px;top:504.0px;letter-spacing:0.36px;">1.08 cores</div>
<div class="sw" style="top:541.5px;background:#ff9830;"></div>
<div class="t lg ln" style="left:78.9px;top:535.95px;letter-spacing:0.49px;">Sum of container CPU requests</div>
<div class="t lg lv" style="right:257.7px;top:536.0px;letter-spacing:0.58px;">0.500 cores</div>
<div class="t lg lv" style="right:143.4px;top:536.0px;letter-spacing:0.58px;">0.500 cores</div>
<div class="t lg lv" style="right:29.8px;top:536.0px;letter-spacing:0.58px;">0.500 cores</div>
<div class="sw" style="top:573.2px;background:#5794f2;"></div>
<div class="t lg ln" style="left:78.9px;top:566.95px;letter-spacing:0.49px;">Sum of container CPU usage</div>
<div class="t lg lv" style="right:257.6px;top:567.0px;letter-spacing:0.66px;">0.0468 cores</div>
<div class="t lg lv" style="right:143.4px;top:567.0px;letter-spacing:0.58px;">0.433 cores</div>
<div class="t lg lv" style="right:30.0px;top:567.0px;letter-spacing:0.36px;">1.08 cores</div>
<div class="panel" style="left:27px;top:615.3px;width:773px;height:80px;"></div>
<div class="panel" style="left:810.2px;top:615.3px;width:773px;height:80px;"></div>
<div class="t bp" id="b1" style="left:38.8px;top:632.80px;font-size:18.9px;letter-spacing:0.4px;-webkit-text-stroke:0.25px #ccccdc;">CPU requests set</div>
<div class="t bp" id="b2" style="right:802.0px;top:632.63px;font-size:19.1px;letter-spacing:0.62px;-webkit-text-stroke:0.25px #ccccdc;">1 / 2 containers</div>
<div class="t bp" id="b3" style="left:822.2px;top:632.80px;font-size:18.9px;letter-spacing:0.4px;-webkit-text-stroke:0.25px #ccccdc;">CPU limits set</div>
<div class="t bp" id="b4" style="right:18.4px;top:632.63px;font-size:19.1px;letter-spacing:0.62px;-webkit-text-stroke:0.25px #ccccdc;">0 / 2 containers</div>
</body></html>
